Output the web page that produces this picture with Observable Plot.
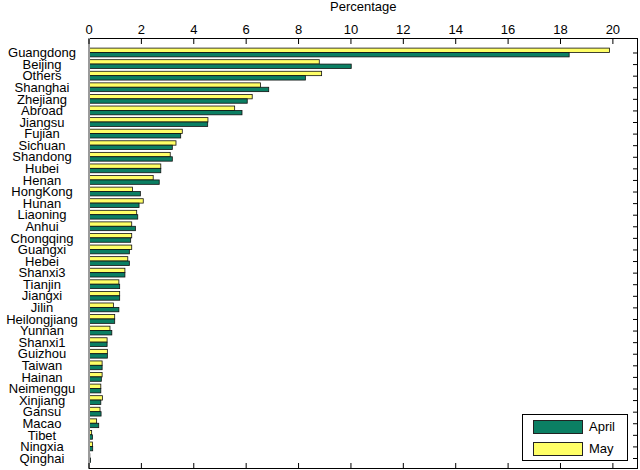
<!DOCTYPE html>
<html><head><meta charset="utf-8">
<script src="https://cdn.jsdelivr.net/npm/d3@7"></script>
<script src="https://cdn.jsdelivr.net/npm/@observablehq/plot@0.6"></script>
<style>
body{margin:0;background:#fff;font-family:"Liberation Sans",Arial,sans-serif;}
#wrap{position:relative;width:640px;height:470px;}
#legend{position:absolute;left:522px;top:414px;width:106px;height:47px;border:1px solid #000;background:#fff;box-sizing:border-box;}
.item{position:absolute;left:10px;display:flex;align-items:center;font-size:13px;}
.sw{width:50px;height:14px;border:1px solid #222;box-sizing:border-box;margin-right:6px;}
</style></head><body><div id="wrap"></div><script>
const categories = ["Guangdong","Beijing","Others","Shanghai","Zhejiang","Abroad","Jiangsu","Fujian","Sichuan","Shandong","Hubei","Henan","HongKong","Hunan","Liaoning","Anhui","Chongqing","Guangxi","Hebei","Shanxi3","Tianjin","Jiangxi","Jilin","Heilongjiang","Yunnan","Shanxi1","Guizhou","Taiwan","Hainan","Neimenggu","Xinjiang","Gansu","Macao","Tibet","Ningxia","Qinghai"];
const april = [18.35,10.03,8.28,6.88,6.06,5.86,4.55,3.52,3.2,3.2,2.76,2.7,1.98,1.93,1.88,1.79,1.61,1.56,1.56,1.39,1.19,1.19,1.16,1.0,0.89,0.71,0.72,0.52,0.49,0.47,0.47,0.48,0.39,0.15,0.16,0.08];
const may = [19.89,8.81,8.9,6.57,6.25,5.58,4.56,3.58,3.34,3.12,2.76,2.47,1.68,2.09,1.84,1.65,1.65,1.65,1.5,1.39,1.16,1.19,0.95,1.0,0.82,0.71,0.72,0.52,0.52,0.47,0.53,0.44,0.31,0.12,0.15,0.05];
const xTicks = [0,2,4,6,8,10,12,14,16,18,20];
const xLabel = "Percentage";
const seriesNames = ["April","May"];
const seriesColors = ["#0b7f63","#ffff66"];

const rows = categories.map((c,i)=>({category:c, april:april[i], may:may[i]}));

const chart = Plot.plot({
  width:640, height:470,
  marginLeft:88.5, marginRight:3, marginTop:38, marginBottom:2,
  style:{fontFamily:"Liberation Sans, Arial, sans-serif", fontSize:"13px", color:"#000", background:"#fff"},
  x:{domain:[0,20.94]},
  y:{type:"band", domain:categories, range:[46.7,463.8], padding:0, round:false},
  marks:[
    Plot.barX(rows,{y:"category", x:"may", fill:seriesColors[1], stroke:"#111", strokeWidth:0.8, insetTop:1.4, insetBottom:5.8}),
    Plot.barX(rows,{y:"category", x:"april", fill:seriesColors[0], stroke:"#111", strokeWidth:0.8, insetTop:5.8, insetBottom:1.4}),
    Plot.frame({stroke:"#000"}),
    Plot.ruleX([0],{stroke:"#9a9a9a", strokeWidth:2}),
    Plot.axisX(xTicks,{anchor:"top", tickSize:0, tickPadding:5, label:null}),
    Plot.text([xLabel],{frameAnchor:"top", lineAnchor:"top", dy:-37, fontSize:13}),
    Plot.axisX(xTicks,{anchor:"top", tickSize:-5, tickFormat:()=>"", label:null}),
    Plot.axisX(xTicks,{anchor:"bottom", tickSize:-5, tickFormat:()=>"", label:null}),
    Plot.axisY({anchor:"right", tickSize:-5, tickFormat:()=>"", label:null}),
    Plot.axisY({anchor:"left", tickSize:0, tickPadding:47, textAnchor:"middle", label:null})
  ]
});
const wrap = document.getElementById("wrap");
wrap.appendChild(chart);
const legend = document.createElement("div");
legend.id = "legend";
seriesNames.forEach((n,i)=>{
  const it = document.createElement("div");
  it.className = "item";
  it.style.top = (i===0 ? 4 : 26) + "px";
  const sw = document.createElement("div");
  sw.className = "sw";
  sw.style.background = seriesColors[i];
  const t = document.createElement("span");
  t.textContent = n;
  it.appendChild(sw); it.appendChild(t);
  legend.appendChild(it);
});
wrap.appendChild(legend);
</script></body></html>
